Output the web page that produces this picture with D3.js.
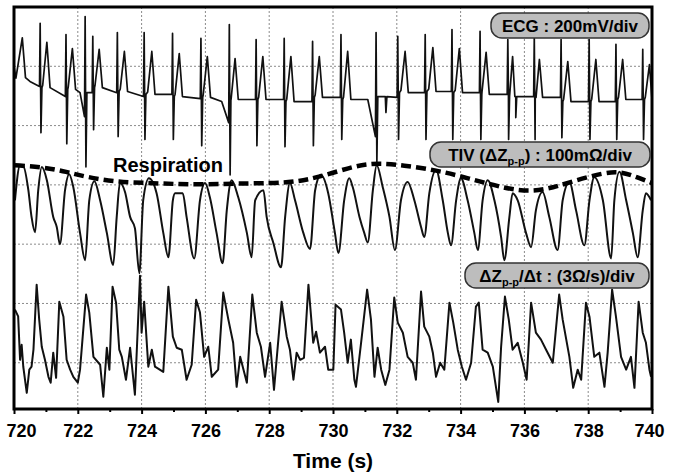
<!DOCTYPE html>
<html>
<head>
<meta charset="utf-8">
<script src="https://cdn.jsdelivr.net/npm/d3@7"></script>
<style>
  body { margin: 0; background: #fff; }
  svg { display: block; font-family: "Liberation Sans", Arial, sans-serif; font-weight: bold; }
</style>
</head>
<body>
<div id="chart"></div>
<script>
// ---- time axis ----
var timeDomain = [720, 740];
var majorTicks = [720, 722, 724, 726, 728, 730, 732, 734, 736, 738, 740];
var minorTicks = [721, 723, 725, 727, 729, 731, 733, 735, 737, 739];

// ---- ECG (mV), read beat by beat ----
var ecgBeatTime = [720.82, 721.63, 722.23, 722.47, 723.24, 724.08, 724.97, 725.86, 726.75, 727.59, 728.47, 729.36,
                   730.25, 731.35, 732.03, 732.89, 733.73, 734.61, 735.48, 736.31, 737.15, 738.03, 738.87, 739.71];
var ecgR = [345, 307, 368, 301, 314, 314, 311, 294, 341, 290, 294, 284, 307, 314, 301, 307, 324, 318, 290, 297, 290, 290, 274, 257];
var ecgS = [-24, -61, -139, -14, -37, -47, -47, -68, -166, -68, -71, -68, -47, -125, -47, -47, -47, -47, -47, -47, -41, -47, -47, -47];
var ecgTTime = [721.03, 721.83, null, 722.67, 723.46, 724.32, 725.18, 726.06, 726.93, 727.80, 728.68, 729.57,
                730.46, null, 732.26, 733.13, 733.96, 734.80, 735.63, 736.47, 737.36, 738.24, 739.08, 739.92];
var ecgT = [281, 260, null, 257, 250, 250, 243, 233, 226, 233, 233, 233, 250, null, 250, 263, 260, 247, 233, 223, 216, 223, 223, 206];
var ecgBefore = [132, 98, 30, 111, 111, 98, 105, 91, 10, 88, 88, 81, 95, -37, 95, 111, 115, 111, 105, 98, 95, 81, 81, 88];
var ecgAfter = [128, 122, 111, 128, 115, 105, 98, 95, 88, 88, 81, 95, 88, 98, 111, 115, 111, 105, 98, 95, 81, 81, 88, 88];
var ecgLead = [[720.00, 199], [720.06, 160], [720.26, 296], [720.36, 162], [720.50, 149]];
var ecgExtra = [[722.07, 111], [726.51, 81], [731.09, 88], [731.64, 98], [731.66, 44], [731.69, 98],
                [735.70, 98], [735.73, 27], [735.76, 98]];

// ---- TIV (mOhm) ----
var tiv = [[720.03, 74], [720.19, 133], [720.29, 132], [720.45, 91], [720.55, 46], [720.66, 20], [720.76, 91], [720.87, 130],
  [721.03, 108], [721.23, 46], [721.34, 29], [721.44, 0], [721.60, 91], [721.73, 118], [721.86, 96], [722.07, 19],
  [722.23, -27], [722.36, 74], [722.52, 106], [722.70, 74], [722.91, 19], [723.11, -35], [723.22, 46], [723.32, 103],
  [723.48, 88], [723.64, 46], [723.79, 27], [723.93, -49], [724.05, 74], [724.23, 111], [724.47, 86], [724.68, 19],
  [724.84, -22], [724.98, 74], [725.05, 86], [725.29, 86], [725.41, 46], [725.65, -24], [725.83, 74], [725.99, 103],
  [726.14, 79], [726.35, 19], [726.54, -32], [726.67, 57], [726.82, 108], [727.03, 79], [727.30, 19], [727.45, -22],
  [727.56, 74], [727.82, 91], [727.92, 46], [728.13, 2], [728.37, -39], [728.50, 46], [728.65, 103], [728.81, 74],
  [729.07, 19], [729.28, -8], [729.44, 91], [729.62, 117], [729.85, 86], [730.06, 19], [730.17, -15], [730.35, 74],
  [730.51, 111], [730.62, 96], [730.83, 46], [730.98, 19], [731.09, 3], [731.25, 91], [731.37, 133], [731.56, 96],
  [731.77, 46], [731.94, -10], [732.13, 74], [732.34, 105], [732.55, 74], [732.76, 29], [732.86, 12], [733.02, 86],
  [733.23, 125], [733.44, 74], [733.60, 19], [733.70, -2], [733.86, 74], [734.01, 111], [734.22, 74], [734.43, 19],
  [734.54, -10], [734.69, 74], [734.85, 108], [735.06, 74], [735.27, 12], [735.37, -27], [735.53, 46], [735.63, 86],
  [735.79, 74], [736.05, 19], [736.21, -5], [736.36, 57], [736.57, 88], [736.78, 46], [737.04, -10], [737.20, 74],
  [737.41, 105], [737.62, 57], [737.88, -2], [738.04, 74], [738.19, 113], [738.46, 74], [738.72, -24], [738.82, 74],
  [738.98, 122], [739.19, 74], [739.40, 19], [739.55, -22], [739.71, 57], [739.81, 86], [739.97, 74]];

// ---- respiration envelope (mOhm, same scale as TIV) ----
var respiration = [[720.03, 133], [720.92, 130], [721.65, 122], [722.28, 113], [723.22, 105], [724.26, 103],
  [725.83, 100], [727.40, 103], [728.65, 103], [729.59, 113], [730.72, 133], [731.44, 137], [732.19, 133],
  [733.23, 125], [734.26, 111], [735.33, 95], [736.15, 88], [736.90, 95], [737.62, 108], [738.47, 120],
  [739.00, 123], [739.53, 113], [740.00, 103]];

// ---- dZ/dt (Ohm/s) ----
var dzdt = [[720.03, 2.69], [720.13, 2.35], [720.19, 0.15], [720.24, 0.91], [720.29, -0.19], [720.40, -1.52], [720.48, -0.35],
  [720.55, -0.20], [720.61, 0.66], [720.71, 3.95], [720.79, 2.18], [720.87, 0.81], [720.97, 0.15], [721.08, -0.71],
  [721.15, -1.01], [721.23, 0.51], [721.32, -0.76], [721.42, 3.09], [721.55, 2.33], [721.65, 0.15], [721.76, -0.35],
  [721.86, -0.71], [722.00, -1.01], [722.07, -0.35], [722.26, 3.45], [722.36, 2.54], [722.49, 0.30], [722.70, -0.10],
  [722.80, -1.72], [722.91, 0.76], [722.99, -0.35], [723.09, 3.85], [723.20, 3.04], [723.30, 0.66], [723.38, 0.30],
  [723.51, -0.86], [723.64, 0.76], [723.79, -1.62], [723.95, 4.40], [724.00, 1.52], [724.08, 3.09], [724.21, -0.20],
  [724.32, 0.66], [724.42, -0.20], [724.68, -0.46], [724.84, 3.85], [724.98, 1.32], [725.10, 0.76], [725.26, 0.66],
  [725.41, -0.86], [725.57, -0.10], [725.71, 3.19], [725.83, 2.54], [725.96, 0.30], [726.09, 0.81], [726.20, -0.71],
  [726.40, -0.35], [726.56, 3.55], [726.72, 2.18], [726.87, 1.01], [726.98, -1.22], [727.09, 0.30], [727.30, -1.01],
  [727.47, 3.45], [727.61, 1.52], [727.74, 0.81], [727.87, -0.71], [728.03, 1.01], [728.15, -1.37], [728.39, 3.09],
  [728.55, 1.32], [728.65, 0.66], [728.76, -0.86], [728.86, 0.51], [728.97, 0.15], [729.09, 0.25], [729.23, 3.95],
  [729.38, 1.01], [729.47, 1.57], [729.59, 0.51], [729.75, 0.81], [729.85, -0.35], [730.01, -0.35], [730.08, 2.94],
  [730.25, 2.69], [730.35, 1.52], [730.46, 0], [730.56, 1.17], [730.67, -0.86], [730.72, -1.22], [730.88, 1.01],
  [731.07, 3.70], [731.19, 2.18], [731.30, -0.71], [731.40, 0.76], [731.51, -0.35], [731.64, -1.12], [731.77, -0.35],
  [731.92, 3.30], [732.03, 2.03], [732.19, 1.52], [732.34, 0.30], [732.50, 0], [732.60, -0.86], [732.76, 3.60],
  [732.86, 1.83], [733.02, 1.32], [733.13, 0.51], [733.23, -0.71], [733.36, 0], [733.49, -0.35], [733.65, 3.04],
  [733.77, 2.03], [733.91, 0.66], [734.04, -0.20], [734.17, -0.86], [734.33, 0], [734.48, 2.84], [734.57, 3.04],
  [734.69, 0.66], [734.85, 0.51], [735.01, -0.20], [735.18, -1.98], [735.27, 0.81], [735.39, 3.35], [735.51, 2.18],
  [735.63, 0.66], [735.79, 1.01], [735.95, 0], [736.07, -0.86], [736.21, 3.04], [736.36, 1.52], [736.52, 1.17],
  [736.68, 0.66], [736.89, 0], [737.09, 3.45], [737.20, 2.18], [737.41, 0.30], [737.53, -1.27], [737.67, -0.35],
  [737.78, -0.86], [737.93, 3.04], [738.04, 2.33], [738.19, 0.30], [738.35, 0.51], [738.51, -1.22], [738.61, 0.51],
  [738.75, 3.70], [738.87, 2.33], [739.03, 0.30], [739.19, -0.35], [739.34, 0.30], [739.45, -1.27], [739.58, 3.09],
  [739.71, 1.52], [739.81, 1.01], [739.92, -0.35], [739.97, -0.71]];

// ---- setup ----
var width = 676, height = 476;
var plotL = 14, plotR = 652, plotT = 7, plotB = 409;

var svg = d3.select("#chart").append("svg")
    .attr("width", width)
    .attr("height", height);

var x = d3.scaleLinear().domain(timeDomain).range([plotL, plotR]);
// vertical position in screen divisions (gridlines at 0..5)
var divY = d3.scaleLinear().domain([-0.78, 6]).range([plotB, plotT]);
var ecgY = d3.scaleLinear().domain([0, 200]).range([divY(4), divY(5)]);
var tivY = d3.scaleLinear().domain([0, 100]).range([divY(2), divY(3)]);
var dzY = d3.scaleLinear().domain([0, 3]).range([divY(0), divY(1)]);

svg.append("clipPath").attr("id", "plotclip")
  .append("rect").attr("x", plotL).attr("y", plotT).attr("width", plotR - plotL).attr("height", plotB - plotT);

// grid
var grid = svg.append("g").attr("stroke", "#8a8a8a").attr("stroke-width", 1).attr("stroke-dasharray", "2,2");
grid.selectAll(".vg").data(majorTicks.slice(1, -1)).enter().append("line")
    .attr("x1", d => x(d)).attr("x2", d => x(d))
    .attr("y1", plotT).attr("y2", plotB);
grid.selectAll(".hg").data([0, 1, 2, 3, 4, 5]).enter().append("line")
    .attr("x1", plotL).attr("x2", plotR)
    .attr("y1", d => divY(d)).attr("y2", d => divY(d));

// ECG path points
var ecgPts = ecgLead.slice();
ecgBeatTime.forEach(function (t, i) {
    ecgPts.push([t - 0.02, ecgBefore[i]], [t, ecgR[i]], [t + 0.025, ecgS[i]], [t + 0.055, ecgAfter[i]]);
    if (ecgTTime[i] != null) {
        ecgPts.push([ecgTTime[i] - 0.13, ecgAfter[i] + 8], [ecgTTime[i], ecgT[i]], [Math.min(740, ecgTTime[i] + 0.1), ecgAfter[i]]);
    }
});
ecgPts = ecgPts.concat(ecgExtra, [[740, ecgAfter[ecgAfter.length - 1]]]);
ecgPts.sort((a, b) => a[0] - b[0]);

var plot = svg.append("g").attr("clip-path", "url(#plotclip)").attr("fill", "none");

plot.append("path").datum(ecgPts)
    .attr("stroke", "#111").attr("stroke-width", 1.7).attr("stroke-linejoin", "round")
    .attr("d", d3.line().x(d => x(d[0])).y(d => ecgY(d[1])));

plot.append("path").datum(tiv)
    .attr("stroke", "#111").attr("stroke-width", 2).attr("stroke-linejoin", "round")
    .attr("d", d3.line().curve(d3.curveMonotoneX).x(d => x(d[0])).y(d => tivY(d[1])));

plot.append("path").datum(respiration)
    .attr("stroke", "#000").attr("stroke-width", 4.5).attr("stroke-dasharray", "10,5")
    .attr("d", d3.line().curve(d3.curveBasis).x(d => x(d[0])).y(d => tivY(d[1])));

plot.append("path").datum(dzdt)
    .attr("stroke", "#111").attr("stroke-width", 2).attr("stroke-linejoin", "round")
    .attr("d", d3.line().x(d => x(d[0])).y(d => dzY(d[1])));

// frame
svg.append("rect")
    .attr("x", plotL).attr("y", plotT).attr("width", plotR - plotL).attr("height", plotB - plotT)
    .attr("fill", "none").attr("stroke", "#000").attr("stroke-width", 3);

// x axis
var axis = svg.append("g").attr("transform", "translate(0," + plotB + ")")
    .call(d3.axisBottom(x).tickValues(majorTicks).tickSize(5).tickPadding(10).tickFormat(d3.format("d")));
axis.select(".domain").remove();
axis.selectAll("line").attr("stroke", "#000").attr("stroke-width", 2);
axis.selectAll("text").attr("font-size", 18).attr("font-weight", "bold").attr("fill", "#000")
    .attr("font-family", "'Liberation Sans', Arial, sans-serif")
    .attr("dx", d => d === 720 ? 7 : (d === 740 ? -3 : 0));

var minor = svg.append("g").attr("transform", "translate(0," + plotB + ")")
    .call(d3.axisBottom(x).tickValues(minorTicks).tickSize(3).tickFormat(""));
minor.select(".domain").remove();
minor.selectAll("line").attr("stroke", "#000").attr("stroke-width", 2);

svg.append("text")
    .attr("x", (plotL + plotR) / 2).attr("y", 468)
    .attr("text-anchor", "middle").attr("font-size", 21)
    .text("Time (s)");

svg.append("text")
    .attr("x", 113).attr("y", 172)
    .attr("font-size", 20)
    .text("Respiration");

// label boxes
function labelBox(x0, y0, w, parts) {
    var g = svg.append("g");
    g.append("rect").attr("x", x0).attr("y", y0).attr("width", w).attr("height", 25)
        .attr("rx", 11).attr("ry", 11)
        .attr("fill", "#bdbdbd").attr("stroke", "#333").attr("stroke-width", 1.5);
    var t = g.append("text").attr("x", x0 + w / 2).attr("y", y0 + 19)
        .attr("text-anchor", "middle").attr("font-size", 17);
    parts.forEach(function (p) {
        var s = t.append("tspan").text(p.text);
        if (p.sub) s.attr("font-size", 11).attr("dy", 4);
        if (p.up) s.attr("dy", -4);
    });
}
labelBox(491, 13, 158, [{text: "ECG : 200mV/div"}]);
labelBox(430, 142, 220, [{text: "TIV (\u0394Z"}, {text: "p-p", sub: true}, {text: ") : 100m\u03A9/div", up: true}]);
labelBox(465, 263, 184, [{text: "\u0394Z"}, {text: "p-p", sub: true}, {text: "/\u0394t : (3\u03A9/s)/div", up: true}]);
</script>
</body>
</html>
